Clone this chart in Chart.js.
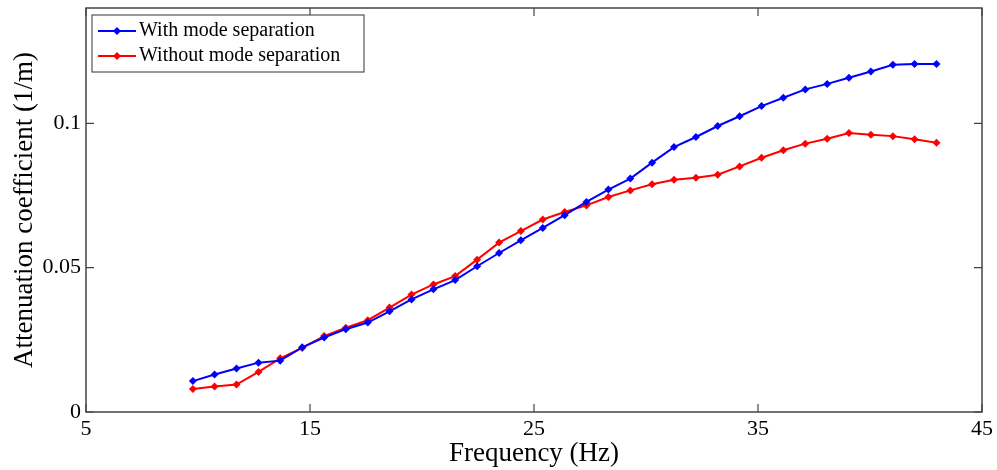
<!DOCTYPE html>
<html>
<head>
<meta charset="utf-8">
<script src="https://cdn.jsdelivr.net/npm/chart.js@4.4.0/dist/chart.umd.min.js"></script>
<style>
  html, body { margin: 0; padding: 0; background: #fff; }
  #wrap { width: 997px; height: 470px; }
</style>
</head>
<body>
<div id="wrap"><canvas id="chartLine"></canvas></div>
<script>
// Frequencies (Hz)
var freqs = [9.77, 10.74, 11.72, 12.70, 13.67, 14.65, 15.63, 16.60, 17.58, 18.55,
  19.53, 20.51, 21.48, 22.46, 23.44, 24.41, 25.39, 26.37, 27.34, 28.32,
  29.30, 30.27, 31.25, 32.23, 33.20, 34.18, 35.16, 36.13, 37.11, 38.09,
  39.06, 40.04, 41.02, 41.99, 42.97];

// Attenuation coefficient (1/m)
var withSep = [0.0107, 0.0130, 0.0151, 0.0171, 0.0178, 0.0224, 0.0258, 0.0287, 0.0310, 0.0349,
  0.0390, 0.0425, 0.0457, 0.0505, 0.0551, 0.0595, 0.0638, 0.0682, 0.0728, 0.0771,
  0.0809, 0.0864, 0.0918, 0.0953, 0.0991, 0.1025, 0.1060, 0.1089, 0.1118, 0.1137,
  0.1158, 0.1180, 0.1203, 0.1206, 0.1206];

var withoutSep = [0.0080, 0.0088, 0.0095, 0.0139, 0.0186, 0.0222, 0.0263, 0.0292, 0.0318, 0.0362,
  0.0407, 0.0442, 0.0471, 0.0528, 0.0587, 0.0627, 0.0667, 0.0693, 0.0716, 0.0745,
  0.0768, 0.0789, 0.0805, 0.0812, 0.0822, 0.0851, 0.0881, 0.0907, 0.0930, 0.0947,
  0.0967, 0.0961, 0.0956, 0.0945, 0.0933];

var xTicks = [5, 15, 25, 35, 45];
var yTicks = [0, 0.05, 0.1];
var yTickLabels = ['0', '0.05', '0.1'];

var serif = '"Liberation Serif", "Times New Roman", serif';

function toPoints(ys) {
    return freqs.map(function (f, i) { return { x: f, y: ys[i] }; });
}

// рамка, внутренние засечки и легенда в рамке (как в MATLAB)
var matlabBox = {
    id: 'matlabBox',
    afterDraw: function (chart) {
        var ctx = chart.ctx;
        var a = chart.chartArea;
        var xs = chart.scales.x, ys = chart.scales.y;
        ctx.save();
        ctx.strokeStyle = '#444';
        ctx.lineWidth = 1.5;
        ctx.strokeRect(a.left, a.top, a.right - a.left, a.bottom - a.top);

        ctx.lineWidth = 1.2;
        ctx.beginPath();
        xTicks.forEach(function (v) {
            var px = xs.getPixelForValue(v);
            ctx.moveTo(px, a.bottom); ctx.lineTo(px, a.bottom - 8);
            ctx.moveTo(px, a.top); ctx.lineTo(px, a.top + 8);
        });
        yTicks.forEach(function (v) {
            var py = ys.getPixelForValue(v);
            ctx.moveTo(a.left, py); ctx.lineTo(a.left + 8, py);
            ctx.moveTo(a.right, py); ctx.lineTo(a.right - 8, py);
        });
        ctx.stroke();

        // легенда
        var lx = a.left + 6, ly = a.top + 7, lw = 272, lh = 57;
        ctx.fillStyle = '#fff';
        ctx.fillRect(lx, ly, lw, lh);
        ctx.strokeStyle = '#555';
        ctx.lineWidth = 1.2;
        ctx.strokeRect(lx, ly, lw, lh);
        chart.data.datasets.forEach(function (ds, i) {
            var y = ly + 16 + i * 25;
            ctx.strokeStyle = ds.borderColor;
            ctx.lineWidth = 2;
            ctx.beginPath();
            ctx.moveTo(lx + 6, y); ctx.lineTo(lx + 44, y);
            ctx.stroke();
            ctx.fillStyle = ds.borderColor;
            ctx.beginPath();
            ctx.moveTo(lx + 25, y - 4); ctx.lineTo(lx + 29, y);
            ctx.lineTo(lx + 25, y + 4); ctx.lineTo(lx + 21, y);
            ctx.closePath();
            ctx.fill();
            ctx.fillStyle = '#000';
            ctx.font = '20px ' + serif;
            ctx.textBaseline = 'middle';
            ctx.fillText(ds.label, lx + 47, y);
        });
        ctx.restore();
    }
};

var lineChart = new Chart(document.getElementById('chartLine'), {
    type: 'line',
    data: {
        datasets: [
            {
                label: 'With mode separation',
                data: toPoints(withSep),
                borderColor: '#0000ff',
                backgroundColor: '#0000ff',
                borderWidth: 2,
                pointStyle: 'rectRot',
                pointRadius: 4,
                pointBorderWidth: 0,
                tension: 0
            },
            {
                label: 'Without mode separation',
                data: toPoints(withoutSep),
                borderColor: '#ff0000',
                backgroundColor: '#ff0000',
                borderWidth: 2,
                pointStyle: 'rectRot',
                pointRadius: 4,
                pointBorderWidth: 0,
                tension: 0
            }
        ]
    },
    options: {
        responsive: true,
        maintainAspectRatio: false,
        animation: false,
        layout: { padding: { top: 8, right: 15, left: 0, bottom: 0 } },
        plugins: {
            legend: { display: false },
            tooltip: { enabled: false }
        },
        scales: {
            x: {
                type: 'linear',
                min: 5,
                max: 45,
                afterBuildTicks: function (s) { s.ticks = xTicks.map(function (v) { return { value: v }; }); },
                afterFit: function (s) { s.height = 58; },
                grid: { display: false, drawTicks: false },
                border: { display: false },
                ticks: {
                    color: '#000',
                    padding: 4,
                    maxRotation: 0,
                    font: { family: serif, size: 22 }
                },
                title: {
                    display: true,
                    text: 'Frequency (Hz)',
                    color: '#000',
                    padding: { top: 3, bottom: 0 },
                    font: { family: serif, size: 27 }
                }
            },
            y: {
                min: 0,
                max: 0.14,
                afterBuildTicks: function (s) { s.ticks = yTicks.map(function (v) { return { value: v }; }); },
                afterFit: function (s) { s.width = 86; s.paddingTop = 0; s.paddingBottom = 0; },
                grid: { display: false, drawTicks: false },
                border: { display: false },
                ticks: {
                    color: '#000',
                    padding: 5,
                    font: { family: serif, size: 22 },
                    callback: function (v) {
                        var i = yTicks.indexOf(v);
                        return i >= 0 ? yTickLabels[i] : '';
                    }
                },
                title: {
                    display: true,
                    text: 'Attenuation coefficient (1/m)',
                    color: '#000',
                    padding: { top: 9, bottom: 2 },
                    font: { family: serif, size: 27 }
                }
            }
        }
    },
    plugins: [matlabBox]
});
</script>
</body>
</html>
